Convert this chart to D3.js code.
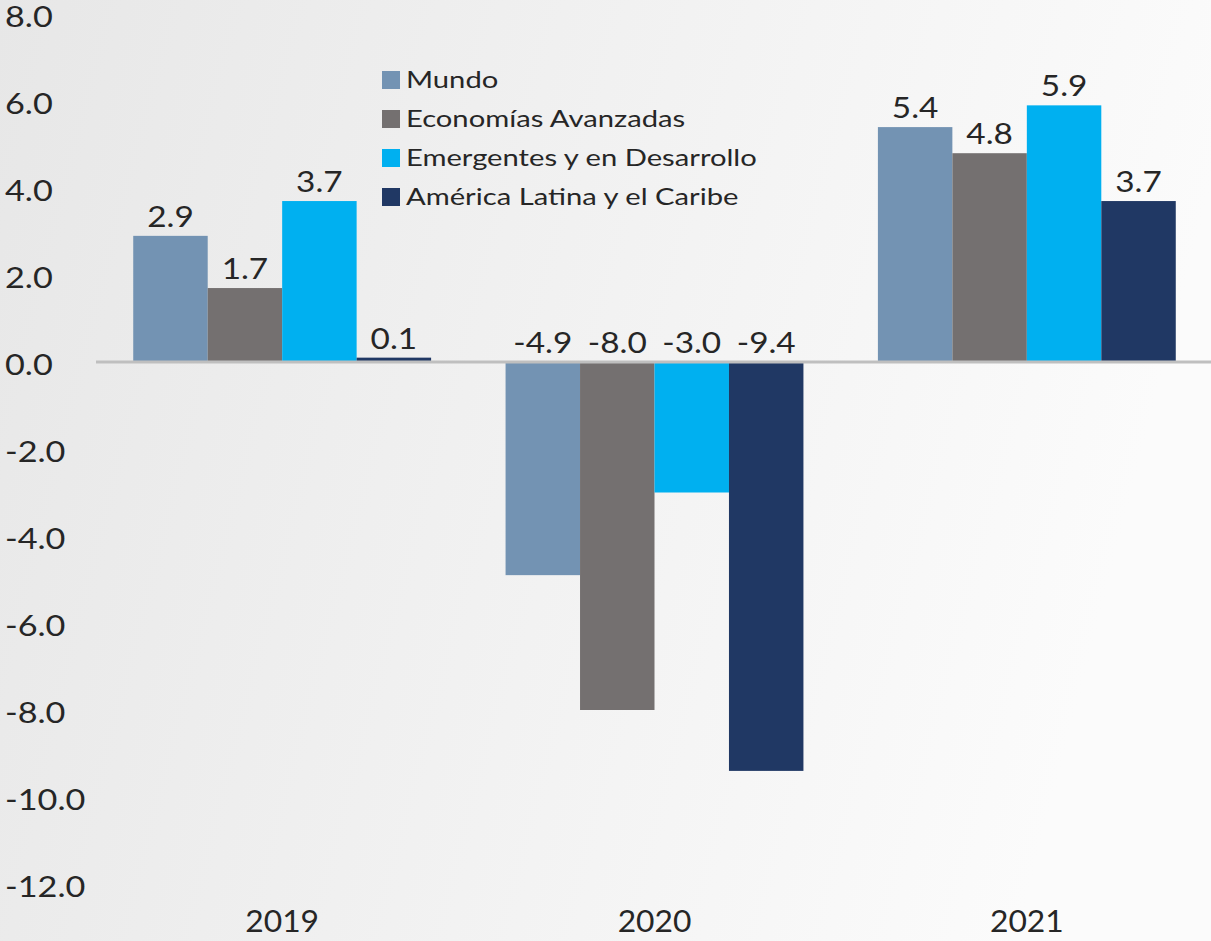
<!DOCTYPE html>
<html>
<head>
<meta charset="utf-8">
<script src="https://d3js.org/d3.v7.min.js"></script>
<style>
  body { margin: 0; }
  text { font-family: Lato, "Open Sans", sans-serif; fill: #262626; }
</style>
</head>
<body>
<svg width="1211" height="941"></svg>
<script>
// data
var years = ["2019", "2020", "2021"];
var seriesNames = ["Mundo", "Economías Avanzadas", "Emergentes y en Desarrollo", "América Latina y el Caribe"];
var mundo = [2.9, -4.9, 5.4];
var avanzadas = [1.7, -8.0, 4.8];
var emergentes = [3.7, -3.0, 5.9];
var latam = [0.1, -9.4, 3.7];
var yTicks = [8, 6, 4, 2, 0, -2, -4, -6, -8, -10, -12];
var colors = ["#7393b3", "#747070", "#00b0f0", "#203864"];

var seriesValues = [mundo, avanzadas, emergentes, latam];

// format with a plain hyphen, like the original
var fmt = function (v) { return d3.format(".1f")(v).replace("\u2212", "-"); };

var svg = d3.select("svg");

// background gradient
var defs = svg.append("defs");
var grad = defs.append("linearGradient")
    .attr("id", "bg")
    .attr("x1", "0%").attr("y1", "0%")
    .attr("x2", "100%").attr("y2", "20%");
grad.append("stop").attr("offset", "0%").attr("stop-color", "#e7e7e7");
grad.append("stop").attr("offset", "100%").attr("stop-color", "#fbfbfb");
svg.append("rect").attr("width", 1211).attr("height", 941).attr("fill", "url(#bg)");

// scales
var x = d3.scaleBand().domain(years).range([96, 1213]).paddingInner(0.2).paddingOuter(0.1);
var xs = d3.scaleBand().domain(seriesNames).range([0, x.bandwidth()]);
var y = d3.scaleLinear().domain([-12, 8]).range([884, 14]);

// text in the original is a bit wider than Lato, so stretch it horizontally
function place(px, py, sx) {
    return "translate(" + px + "," + py + ") scale(" + sx + ",1)";
}

// y tick labels
svg.append("g").selectAll("text")
    .data(yTicks)
    .enter()
    .append("text")
    .attr("transform", function (d) { return place(5, y(d) + 3, 1.18); })
    .attr("dy", "0.36em")
    .attr("font-size", "29px")
    .text(function (d) { return fmt(d); });

// bars
var groups = svg.append("g").selectAll("g")
    .data(seriesNames)
    .enter()
    .append("g")
    .attr("fill", function (d, i) { return colors[i]; });

groups.selectAll("rect")
    .data(function (d, i) {
        return years.map(function (yr, j) { return { s: d, year: yr, v: seriesValues[i][j] }; });
    })
    .enter()
    .append("rect")
    .attr("x", function (d) { return x(d.year) + xs(d.s); })
    .attr("width", xs.bandwidth())
    .attr("y", function (d) { return y(Math.max(0, d.v)); })
    .attr("height", function (d) { return Math.abs(y(d.v) - y(0)); });

// value labels
groups.selectAll("text")
    .data(function (d, i) {
        return years.map(function (yr, j) { return { s: d, year: yr, v: seriesValues[i][j] }; });
    })
    .enter()
    .append("text")
    .attr("transform", function (d) {
        return place(x(d.year) + xs(d.s) + xs.bandwidth() / 2, y(Math.max(0, d.v)) - 9, 1.15);
    })
    .attr("text-anchor", "middle")
    .attr("font-size", "29px")
    .text(function (d) { return fmt(d.v); });

// zero line
svg.append("line")
    .attr("x1", 96).attr("x2", 1211)
    .attr("y1", y(0)).attr("y2", y(0))
    .attr("stroke", "#bfbfbf")
    .attr("stroke-width", 3);

// x labels
svg.append("g").selectAll("text")
    .data(years)
    .enter()
    .append("text")
    .attr("transform", function (d) { return place(x(d) + x.bandwidth() / 2, 921, 1.06); })
    .attr("dy", "0.36em")
    .attr("text-anchor", "middle")
    .attr("font-size", "30px")
    .text(function (d) { return d; });

// legend
var legend = svg.append("g").selectAll("g")
    .data(seriesNames)
    .enter()
    .append("g")
    .attr("transform", function (d, i) { return "translate(382," + (80 + i * 39) + ")"; });
legend.append("rect")
    .attr("y", -9)
    .attr("width", 18).attr("height", 18)
    .attr("fill", function (d, i) { return colors[i]; });
legend.append("text")
    .attr("transform", place(24, 0, 1.27))
    .attr("dy", "0.36em")
    .attr("font-size", "23px")
    .text(function (d) { return d; });
</script>
</body>
</html>
